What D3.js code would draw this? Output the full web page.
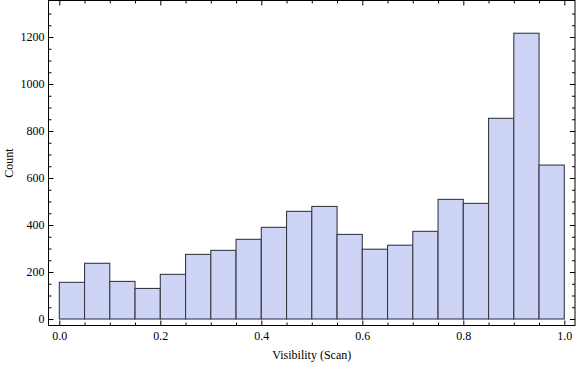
<!DOCTYPE html>
<html>
<head>
<meta charset="utf-8">
<script src="https://cdn.jsdelivr.net/npm/d3@7"></script>
<style>
  body { margin: 0; background: #fff; }
  text { font-family: 'Liberation Serif', 'Times New Roman', serif; }
</style>
</head>
<body>
<div id="chart"></div>
<script>
// bin edges for the 20 bars (left edges), width 0.05
const binStarts = [0.00, 0.05, 0.10, 0.15, 0.20, 0.25, 0.30, 0.35, 0.40, 0.45,
                   0.50, 0.55, 0.60, 0.65, 0.70, 0.75, 0.80, 0.85, 0.90, 0.95]
const binWidth = 0.05
const counts = [156, 237, 160, 130, 190, 275, 292, 339, 390, 458,
                479, 360, 297, 314, 373, 509, 492, 854, 1216, 655]

const xTicks = [0, 0.2, 0.4, 0.6, 0.8, 1.0]
const xMinorTicks = [0.05, 0.1, 0.15, 0.25, 0.3, 0.35, 0.45, 0.5, 0.55, 0.65, 0.7, 0.75, 0.85, 0.9, 0.95]
const yTicks = [0, 200, 400, 600, 800, 1000, 1200]
const yMinorTicks = [50, 100, 150, 250, 300, 350, 450, 500, 550, 650, 700, 750,
                     850, 900, 950, 1050, 1100, 1150, 1250, 1300]

const width = 576
const height = 366

// frame box
const frame = { left: 48.5, right: 575, top: 0.5, bottom: 325.5 }

const svg = d3
  .select('#chart')
  .append('svg')
  .attr('width', width)
  .attr('height', height)

const x = d3.scaleLinear().domain([0, 1]).range([59.3, 564.3])
const y = d3.scaleLinear().domain([0, 1200]).range([319, 37])

// bars
svg
  .selectAll('rect.bar')
  .data(counts)
  .enter()
  .append('rect')
  .attr('class', 'bar')
  .attr('x', (d, i) => x(binStarts[i]))
  .attr('width', (d, i) => x(binStarts[i] + binWidth) - x(binStarts[i]))
  .attr('y', d => y(d))
  .attr('height', d => y(0) - y(d))
  .attr('fill', '#cdd4f6')
  .attr('stroke', '#3a3a46')
  .attr('stroke-width', 1.1)

// frame axes, ticks point inward
function styleAxis(g) {
  g.select('.domain').remove()
  g.selectAll('.tick line').attr('stroke', '#000')
  g.selectAll('.tick text')
    .attr('fill', '#000')
    .style('font-size', '12px')
    .style('font-family', "'Liberation Serif', 'Times New Roman', serif")
}

// left
svg.append('g')
  .attr('transform', `translate(${frame.left},0)`)
  .call(d3.axisLeft(y).tickValues(yTicks).tickFormat(d3.format('d')).tickSize(-5).tickPadding(4))
  .call(styleAxis)
svg.append('g')
  .attr('transform', `translate(${frame.left},0)`)
  .call(d3.axisLeft(y).tickValues(yMinorTicks).tickFormat('').tickSize(-3))
  .call(styleAxis)

// right
svg.append('g')
  .attr('transform', `translate(${frame.right},0)`)
  .call(d3.axisRight(y).tickValues(yTicks).tickFormat('').tickSize(-5))
  .call(styleAxis)
svg.append('g')
  .attr('transform', `translate(${frame.right},0)`)
  .call(d3.axisRight(y).tickValues(yMinorTicks).tickFormat('').tickSize(-3))
  .call(styleAxis)

// bottom
svg.append('g')
  .attr('transform', `translate(0,${frame.bottom})`)
  .call(d3.axisBottom(x).tickValues(xTicks).tickFormat(d3.format('.1f')).tickSize(-5).tickPadding(5.5))
  .call(styleAxis)
svg.append('g')
  .attr('transform', `translate(0,${frame.bottom})`)
  .call(d3.axisBottom(x).tickValues(xMinorTicks).tickFormat('').tickSize(-3))
  .call(styleAxis)

// top
svg.append('g')
  .attr('transform', `translate(0,${frame.top})`)
  .call(d3.axisTop(x).tickValues(xTicks).tickFormat('').tickSize(-5))
  .call(styleAxis)
svg.append('g')
  .attr('transform', `translate(0,${frame.top})`)
  .call(d3.axisTop(x).tickValues(xMinorTicks).tickFormat('').tickSize(-3))
  .call(styleAxis)

svg.append('rect')
  .attr('x', frame.left)
  .attr('y', frame.top)
  .attr('width', frame.right - frame.left)
  .attr('height', frame.bottom - frame.top)
  .attr('fill', 'none')
  .attr('stroke', '#000')
  .attr('stroke-width', 1)

// axis labels
svg.append('text')
  .attr('x', (frame.left + frame.right) / 2)
  .attr('y', 359)
  .attr('text-anchor', 'middle')
  .style('font-size', '12px')
  .text('Visibility (Scan)')

svg.append('text')
  .attr('transform', `translate(13,${(frame.top + frame.bottom) / 2}) rotate(-90)`)
  .attr('text-anchor', 'middle')
  .style('font-size', '12px')
  .text('Count')
</script>
</body>
</html>
